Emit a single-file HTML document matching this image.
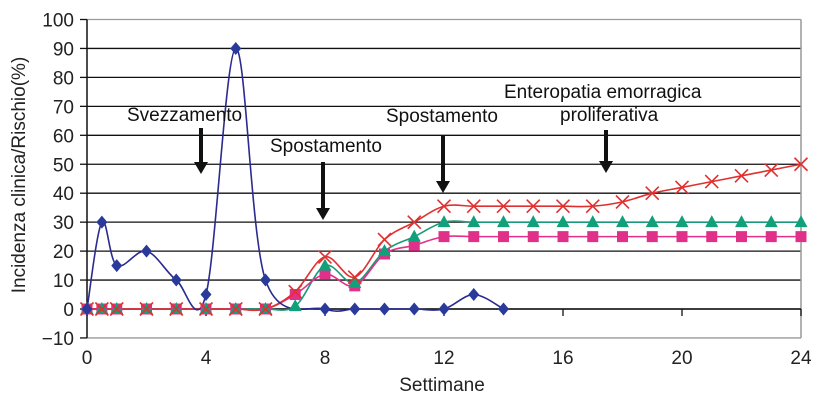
<!DOCTYPE html><html><head><meta charset="utf-8"><style>body{margin:0;background:#fff}svg{display:block;font-family:"Liberation Sans",sans-serif}</style></head><body>
<svg id="s" width="820" height="416" viewBox="0 0 820 416"></svg>
<script>
const X=w=>87+w*29.75, Y=v=>309-v*2.895;
let h='';
for(let v=-10;v<=100;v+=10){const y=Y(v);const c=(v==100||v==-10)?'#999':'#111';h+=`<line x1="87" y1="${y}" x2="801" y2="${y}" stroke="${c}" stroke-width="1.3"/>`;h+=`<line x1="80" y1="${y}" x2="87" y2="${y}" stroke="#111" stroke-width="1.3"/>`;h+=`<text x="74" y="${y+7}" font-size="19" text-anchor="end" fill="#222">${v<0?'−10':v}</text>`;}
h+=`<line x1="801" y1="${Y(100)}" x2="801" y2="${Y(-10)}" stroke="#999" stroke-width="1.5"/>`;
h+=`<line x1="87" y1="${Y(100)}" x2="87" y2="${Y(-10)}" stroke="#111" stroke-width="1.5"/>`;
h+=`<line x1="87" y1="${Y(0)}" x2="801" y2="${Y(0)}" stroke="#111" stroke-width="1.5"/>`;
for(let w=0;w<=24;w+=4){h+=`<line x1="${X(w)}" y1="${Y(0)}" x2="${X(w)}" y2="${Y(0)+7}" stroke="#111" stroke-width="1.3"/><text x="${X(w)}" y="364" font-size="19" text-anchor="middle" fill="#222">${w}</text>`;}
function path(p,col){let d=`M${X(p[0][0])},${Y(p[0][1])}`;for(let i=0;i<p.length-1;i++){const p0=p[Math.max(i-1,0)],p1=p[i],p2=p[i+1],p3=p[Math.min(i+2,p.length-1)];const c1=[X(p1[0])+(X(p2[0])-X(p0[0]))/6,Y(p1[1])+(Y(p2[1])-Y(p0[1]))/6];const c2=[X(p2[0])-(X(p3[0])-X(p1[0]))/6,Y(p2[1])-(Y(p3[1])-Y(p1[1]))/6];d+=`C${c1} ${c2} ${X(p2[0])},${Y(p2[1])}`;}return `<path d="${d}" fill="none" stroke="${col}" stroke-width="1.6"/>`;}
const base=[[0,0],[0.5,0],[1,0],[2,0],[3,0],[4,0],[5,0],[6,0]];
const red=base.concat([[7,6],[8,18],[9,11],[10,24],[11,30],[12,35.5],[13,35.5],[14,35.5],[15,35.5],[16,35.5],[17,35.5],[18,37],[19,40],[20,42],[21,44],[22,46],[23,48],[24,50]]);
const grn=base.concat([[7,1],[8,15],[9,9],[10,20],[11,25],[12,30]]);for(let w=13;w<=24;w++)grn.push([w,30]);
const pnk=base.concat([[7,5],[8,12],[9,8],[10,19],[11,22],[12,25]]);for(let w=13;w<=24;w++)pnk.push([w,25]);
const blu=[[0,0],[0.5,30],[1,15],[2,20],[3,10],[4,5],[5,90],[6,10],[8,0],[9,0],[10,0],[11,0],[12,0],[13,5],[14,0]];
h+=path(grn,'#1a9a7a')+path(pnk,'#e0308a')+path(red,'#e03030')+path(blu,'#2a2a90');
pnk.forEach(p=>h+=`<rect x="${X(p[0])-5.5}" y="${Y(p[1])-5.5}" width="11" height="11" fill="#e0308a"/>`);
grn.forEach(p=>h+=`<polygon points="${X(p[0])},${Y(p[1])-7} ${X(p[0])-6.5},${Y(p[1])+5} ${X(p[0])+6.5},${Y(p[1])+5}" fill="#12a07a"/>`);
red.forEach(p=>{const x=X(p[0]),y=Y(p[1]);h+=`<path d="M${x-6.5},${y-6.5}L${x+6.5},${y+6.5}M${x-6.5},${y+6.5}L${x+6.5},${y-6.5}" stroke="#e03030" stroke-width="1.6"/>`});
blu.forEach(p=>{const x=X(p[0]),y=Y(p[1]);h+=`<polygon points="${x},${y-6.5} ${x+5.5},${y} ${x},${y+6.5} ${x-5.5},${y}" fill="#2a3a9a"/>`});
function arr(x,y1,y2){return `<line x1="${x}" y1="${y1}" x2="${x}" y2="${y2-10}" stroke="#111" stroke-width="4"/><polygon points="${x-7},${y2-12} ${x+7},${y2-12} ${x},${y2}" fill="#111"/>`;}
h+=`<text x="127" y="121" font-size="19" fill="#111">Svezzamento</text>`+arr(201,128,174);
h+=`<text x="270" y="152" font-size="19" fill="#111">Spostamento</text>`+arr(323,162,220);
h+=`<text x="386" y="122" font-size="19" fill="#111">Spostamento</text>`+arr(443,135,193);
h+=`<text x="504" y="98" font-size="19" fill="#111">Enteropatia emorragica</text><text x="560" y="121" font-size="19" fill="#111">proliferativa</text>`+arr(606,130,173);
h+=`<text x="442" y="391" font-size="19" text-anchor="middle" fill="#222">Settimane</text>`;
h+=`<text transform="translate(25,175) rotate(-90)" font-size="19" text-anchor="middle" fill="#222">Incidenza clinica/Rischio(%)</text>`;
document.getElementById('s').innerHTML=h;
</script></body></html>
